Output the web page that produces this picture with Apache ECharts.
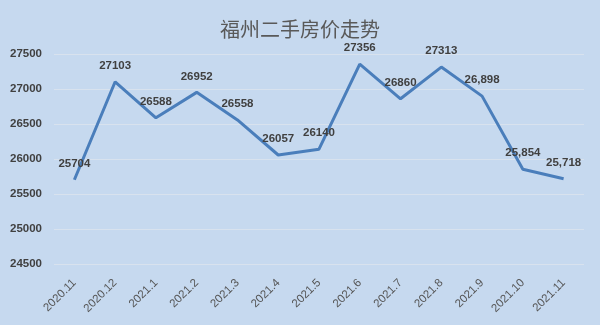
<!DOCTYPE html>
<html>
<head>
<meta charset="utf-8">
<script src="https://cdn.jsdelivr.net/npm/echarts@6/dist/echarts.min.js"></script>
<style>
html,body{margin:0;padding:0;background:#c6d9ef;}
#c{width:600px;height:325px;}
</style>
</head>
<body>
<div id="c"></div>
<script>
var categories = ['2020.11','2020.12','2021.1','2021.2','2021.3','2021.4','2021.5','2021.6','2021.7','2021.8','2021.9','2021.10','2021.11'];
var prices = [25704,27103,26588,26952,26558,26057,26140,27356,26860,27313,26898,25854,25718];
var priceLabels = ['25704','27103','26588','26952','26558','26057','26140','27356','26860','27313','26,898','25,854','25,718'];
var yTicks = [24500,25000,25500,26000,26500,27000,27500];

var chart = echarts.init(document.getElementById('c'), null, {renderer:'canvas'});
chart.setOption({
  backgroundColor: '#c6d9ef',
  animation: false,
  title: {
    text: '福州二手房价走势',
    left: 'center',
    top: 14,
    textStyle: {fontFamily: 'Noto Sans CJK SC', fontSize: 20, fontWeight: 'normal', color: '#595959'}
  },
  grid: {left: 54, right: 16, top: 54, bottom: 61, containLabel: false},
  xAxis: {
    type: 'category',
    data: categories,
    boundaryGap: true,
    axisLine: {show: false},
    axisTick: {show: false},
    axisLabel: {rotate: 45, margin: 17, interval: 0, color: '#555555', fontSize: 11.5, fontFamily: 'Liberation Sans'}
  },
  yAxis: {
    type: 'value',
    min: yTicks[0],
    max: yTicks[yTicks.length-1],
    interval: 500,
    axisLine: {show: false},
    axisTick: {show: false},
    splitLine: {lineStyle: {color: '#d8e2ee', width: 1}},
    axisLabel: {color: '#404040', fontSize: 11.5, fontWeight: 'bold', fontFamily: 'Liberation Sans', margin: 12,
      formatter: function(v){ return String(v); }}
  },
  series: [{
    type: 'line',
    data: prices,
    showSymbol: true,
    symbol: 'circle',
    symbolSize: 2,
    itemStyle: {color: 'rgba(74,126,187,0)', borderWidth: 0},
    lineStyle: {color: '#4a7ebb', width: 3},
    labelLayout: {hideOverlap: false},
    label: {
      show: true,
      position: 'top',
      distance: 9,
      color: '#404040',
      fontSize: 11.5,
      fontWeight: 'bold',
      fontFamily: 'Liberation Sans',
      formatter: function(p){ return priceLabels[p.dataIndex]; }
    }
  }]
});
</script>
</body>
</html>
